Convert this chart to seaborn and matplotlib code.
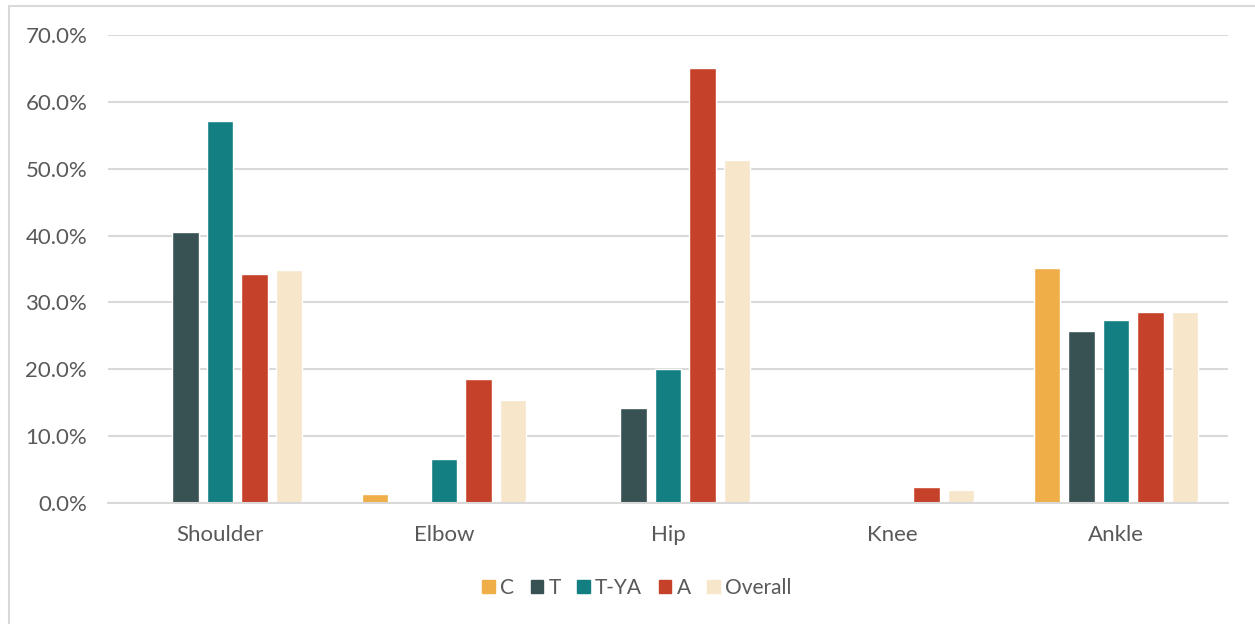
import matplotlib
matplotlib.use("Agg")
import matplotlib.pyplot as plt
import matplotlib.patches as mpatches
from matplotlib.ticker import PercentFormatter
import pandas as pd
import seaborn as sns

# Injury location by age group (share of cases, %)
joints = ["Shoulder", "Elbow", "Hip", "Knee", "Ankle"]
groups = ["C", "T", "T-YA", "A", "Overall"]
c_vals = [0.0, 1.4, 0.0, 0.0, 35.2]
t_vals = [40.5, 0.0, 14.2, 0.0, 25.8]
tya_vals = [57.2, 6.6, 20.0, 0.0, 27.3]
a_vals = [34.3, 18.6, 65.0, 2.4, 28.5]
overall_vals = [34.9, 15.4, 51.3, 1.9, 28.5]
colors = ["#EFAE47", "#385152", "#137F82", "#C6412A", "#F8E6CB"]

series = dict(zip(groups, [c_vals, t_vals, tya_vals, a_vals, overall_vals]))
df = pd.DataFrame(
    [(j, g, v) for g, vals in series.items() for j, v in zip(joints, vals)],
    columns=["joint", "group", "value"],
)

sns.set_theme(style="white")
plt.rcParams["font.family"] = ["Lato", "DejaVu Sans"]
text_color = "#595959"
grid_color = "#D9D9D9"

fig = plt.figure(figsize=(12.55, 6.24), dpi=100)
ax = fig.add_axes([108 / 1255, 1 - 503 / 624, 1120 / 1255, 468 / 624])

sns.barplot(
    data=df, x="joint", y="value", hue="group",
    order=joints, hue_order=groups, palette=colors,
    width=0.77, gap=0.22, saturation=1, ax=ax, legend=False,
)

ax.set_ylim(0, 70)
ax.set_xlim(-0.5, len(joints) - 0.5)
ax.set_yticks(range(0, 71, 10))
ax.yaxis.set_major_formatter(PercentFormatter(decimals=1))
ax.yaxis.grid(True, color=grid_color, linewidth=1.5)
ax.set_axisbelow(True)
ax.set_xlabel("")
ax.set_ylabel("")
for side in ["top", "right", "left"]:
    ax.spines[side].set_visible(False)
ax.spines["bottom"].set_color(grid_color)
ax.spines["bottom"].set_linewidth(1.5)
ax.tick_params(axis="both", length=0, labelsize=16, colors=text_color)
ax.tick_params(axis="y", pad=15)
ax.tick_params(axis="x", pad=16)

handles = [mpatches.Patch(color=c, label=g) for g, c in zip(groups, colors)]
fig.legend(
    handles=handles, loc="center", bbox_to_anchor=(637 / 1255, 1 - 588 / 624),
    ncol=5, frameon=False, fontsize=15, labelcolor=text_color,
    handlelength=0.6, handleheight=0.6, handletextpad=0.25, columnspacing=0.8,
)

# light frame around the chart area
fig.add_artist(mpatches.Rectangle(
    (9 / 1255, -0.1), 1.2, 1 - 6 / 624 + 0.1,
    transform=fig.transFigure, fill=False, edgecolor=grid_color, linewidth=1.5,
))

fig.savefig("out.png", dpi=100, facecolor="white")
